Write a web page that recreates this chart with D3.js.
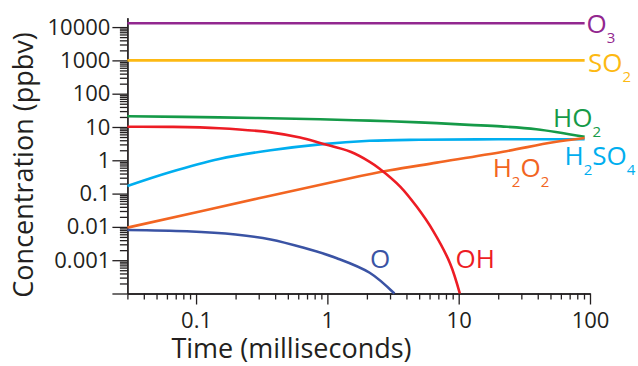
<!DOCTYPE html>
<html>
<head>
<meta charset="utf-8">
<title>Concentration vs time</title>
<script src="https://cdnjs.cloudflare.com/ajax/libs/d3/7.8.5/d3.min.js"></script>
<style>
  body { margin: 0; background: #fff; }
  svg { font-family: "Open Sans", sans-serif; }
  .axis path, .axis line { stroke: #231f20; stroke-width: 1.3px; }
  .axis text { font-family: "Open Sans", sans-serif; font-size: 22px; fill: #231f20; }
  .series { fill: none; stroke-width: 2.6px; }
  .title { font-size: 27px; fill: #231f20; }
  .label { font-size: 26px; }
</style>
</head>
<body>
<svg width="638" height="366"></svg>
<script>
// [time (ms), concentration (ppbv)]
var O3    = [[0.03, 13000], [91, 13000]];
var SO2   = [[0.03, 1000], [91, 1000]];
var HO2   = [[0.03, 21], [0.15, 19.5], [0.88, 17], [2.1, 15.5], [5, 13.8], [12, 11.6], [21, 10.4], [39, 8.6], [91, 5.1]];
var H2SO4 = [[0.03, 0.17], [0.063, 0.44], [0.15, 1.1], [0.37, 2.0], [0.88, 3.0], [2.1, 3.85], [5, 4.15], [20, 4.27], [91, 4.3]];
var H2O2  = [[0.03, 0.0095], [0.3, 0.072], [1.49, 0.29], [3, 0.5], [6.8, 0.85], [21.8, 1.81], [52.5, 3.47], [91, 4.67]];
var OH    = [[0.03, 10.2], [0.063, 10.1], [0.15, 9.2], [0.37, 6.9], [0.62, 4.8], [0.88, 3.3], [1.5, 1.8], [2.1, 0.9], [2.5, 0.56], [3.6, 0.16], [4.8, 0.04], [6.4, 0.0075], [8.6, 0.0008], [10.2, 0.0001]];
var O     = [[0.03, 0.0081], [0.085, 0.0074], [0.2, 0.0059], [0.37, 0.0042], [0.65, 0.0024], [1.18, 0.00115], [2.1, 0.00042], [3.24, 0.0001]];

var xMajor = [0.1, 1, 10, 100];
var xTickLabels = ["0.1", "1", "10", "100"];
var yMajor = [1e-4, 1e-3, 1e-2, 1e-1, 1, 10, 100, 1000, 10000];
var yTickLabels = ["", "0.001", "0.01", "0.1", "1", "10", "100", "1000", "10000"];

var colors = {
  O3: "#92278f", SO2: "#fdb913", HO2: "#159a48", H2SO4: "#00aeef",
  H2O2: "#f26522", OH: "#ed1c24", O: "#3a53a4"
};

var series = [
  {name: "O3", data: O3}, {name: "SO2", data: SO2}, {name: "HO2", data: HO2},
  {name: "H2SO4", data: H2SO4}, {name: "H2O2", data: H2O2}, {name: "OH", data: OH},
  {name: "O", data: O}
];

// labels: pieces [text, isSubscript], placed by hand
var labels = [
  {name: "O3",    parts: [["O", 0], ["3", 1]],                     x: 586.5, y: 33},
  {name: "SO2",   parts: [["SO", 0], ["2", 1]],                    x: 588,   y: 71.7},
  {name: "HO2",   parts: [["HO", 0], ["2", 1]],                    x: 553,   y: 126.7},
  {name: "H2SO4", parts: [["H", 0], ["2", 1], ["SO", 0], ["4", 1]], x: 564.5, y: 165},
  {name: "H2O2",  parts: [["H", 0], ["2", 1], ["O", 0], ["2", 1]],  x: 492.7, y: 176.7},
  {name: "O",     parts: [["O", 0]],                               x: 370,   y: 268.3},
  {name: "OH",    parts: [["OH", 0]],                              x: 455.5, y: 268.3}
];

var svg = d3.select("svg");

var x = d3.scaleLog().domain([0.03, 100]).range([127.4, 590]);
var y = d3.scaleLog().domain([1e-4, 19000]).range([293.5, 17.8]);

var isPow10 = v => Math.abs(Math.log10(v) - Math.round(Math.log10(v))) < 1e-9;
var xMinor = x.ticks().filter(v => !isPow10(v));
var yMinor = y.ticks().filter(v => !isPow10(v));

// minor ticks
svg.append("g").attr("class", "axis")
  .attr("transform", "translate(0,293.5)")
  .call(d3.axisBottom(x).tickValues(xMinor).tickSize(6).tickSizeOuter(0).tickFormat(""));
svg.append("g").attr("class", "axis")
  .attr("transform", "translate(127.4,0)")
  .call(d3.axisLeft(y).tickValues(yMinor).tickSize(7.5).tickSizeOuter(0).tickFormat(""));

// major ticks
svg.append("g").attr("class", "axis")
  .attr("transform", "translate(0,293.5)")
  .call(d3.axisBottom(x).tickValues(xMajor).tickSize(11).tickSizeOuter(0).tickPadding(8)
    .tickFormat((d, i) => xTickLabels[i]));
svg.append("g").attr("class", "axis")
  .attr("transform", "translate(127.4,0)")
  .call(d3.axisLeft(y).tickValues(yMajor).tickSize(15).tickSizeOuter(0).tickPadding(2)
    .tickFormat((d, i) => yTickLabels[i]));

var line = d3.line()
  .x(d => x(d[0]))
  .y(d => y(d[1]))
  .curve(d3.curveCatmullRom.alpha(0.5));

svg.append("g")
  .selectAll("path")
  .data(series)
  .enter()
  .append("path")
  .attr("class", "series")
  .attr("stroke", d => colors[d.name])
  .attr("d", d => line(d.data));

var lab = svg.append("g")
  .selectAll("text")
  .data(labels)
  .enter()
  .append("text")
  .attr("class", "label")
  .attr("x", d => d.x)
  .attr("y", d => d.y)
  .attr("fill", d => colors[d.name]);

lab.each(function(d) {
  var t = d3.select(this);
  var shifted = false;
  d.parts.forEach(p => {
    var s = t.append("tspan").text(p[0]);
    if (p[1]) {
      s.attr("font-size", "15px").attr("dy", shifted ? 0 : 10);
      shifted = true;
    } else {
      if (shifted) s.attr("dy", -10);
      shifted = false;
    }
  });
});

svg.append("text")
  .attr("class", "title")
  .attr("x", 291.5)
  .attr("y", 358)
  .attr("text-anchor", "middle")
  .text("Time (milliseconds)");

svg.append("text")
  .attr("class", "title")
  .attr("transform", "rotate(-90)")
  .attr("x", -165)
  .attr("y", 33)
  .attr("text-anchor", "middle")
  .text("Concentration (ppbv)");
</script>
</body>
</html>
